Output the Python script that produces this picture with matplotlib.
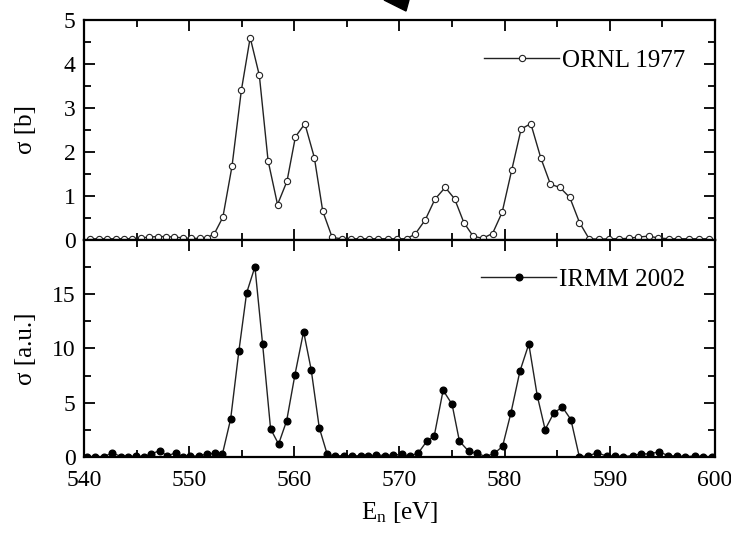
import matplotlib
matplotlib.use("Agg")
import matplotlib.pyplot as plt
from matplotlib.ticker import MultipleLocator
from matplotlib.patches import Polygon

plt.rcParams['font.family'] = ['Liberation Serif', 'DejaVu Serif']
plt.rcParams['mathtext.fontset'] = 'custom'
plt.rcParams['mathtext.rm'] = 'Liberation Serif'
plt.rcParams['mathtext.it'] = 'Liberation Serif'

# ORNL 1977 (sigma in barn)
ornl_e = [540.6, 541.4, 542.2, 543.0, 543.8, 544.6, 545.4, 546.2, 547.0, 547.8,
          548.6, 549.4, 550.2, 551.0, 551.7, 552.4, 553.2, 554.07, 554.96, 555.8,
          556.67, 557.5, 558.4, 559.3, 560.1, 561.0, 561.9, 562.7, 563.6, 564.5,
          565.35, 566.2, 567.1, 568.0, 568.9, 569.8, 570.67, 571.5, 572.45, 573.37,
          574.35, 575.24, 576.12, 577.0, 577.9, 578.85, 579.76, 580.68, 581.57, 582.49,
          583.44, 584.36, 585.25, 586.2, 587.12, 588.03, 588.98, 589.94, 590.9, 591.8,
          592.7, 593.7, 594.6, 595.6, 596.5, 597.5, 598.5, 599.4]
ornl_s = [0.02, 0.02, 0.02, 0.02, 0.02, 0.02, 0.04, 0.06, 0.07, 0.07,
          0.06, 0.04, 0.03, 0.03, 0.04, 0.14, 0.51, 1.67, 3.40, 4.60,
          3.74, 1.80, 0.80, 1.33, 2.34, 2.64, 1.87, 0.65, 0.05, 0.02,
          0.02, 0.02, 0.02, 0.02, 0.02, 0.02, 0.02, 0.13, 0.45, 0.92,
          1.19, 0.93, 0.39, 0.08, 0.03, 0.14, 0.62, 1.59, 2.52, 2.64,
          1.86, 1.26, 1.19, 0.96, 0.39, 0.02, 0.01, 0.02, 0.02, 0.03,
          0.06, 0.08, 0.04, 0.02, 0.02, 0.02, 0.02, 0.02]

# IRMM 2002 (arbitrary units)
irmm_e = [540.3, 541.0, 541.9, 542.7, 543.5, 544.2, 544.9, 545.7, 546.4, 547.2,
          547.9, 548.7, 549.4, 550.1, 550.9, 551.7, 552.5, 553.15, 553.94, 554.73,
          555.46, 556.25, 556.98, 557.74, 558.5, 559.27, 560.06, 560.88, 561.6, 562.37,
          563.13, 563.9, 564.7, 565.5, 566.3, 567.0, 567.8, 568.6, 569.4, 570.2,
          571.0, 571.8, 572.6, 573.3, 574.15, 575.0, 575.7, 576.6, 577.4, 578.2,
          579.0, 579.8, 580.6, 581.45, 582.3, 583.1, 583.85, 584.7, 585.5, 586.3,
          587.1, 587.9, 588.8, 589.7, 590.5, 591.3, 592.2, 593.0, 593.8, 594.7,
          595.5, 596.4, 597.2, 598.1, 598.9, 599.7]
irmm_s = [0.05, 0.05, 0.05, 0.4, 0.05, 0.05, 0.1, 0.05, 0.3, 0.6,
          0.1, 0.4, 0.05, 0.1, 0.1, 0.3, 0.35, 0.25, 3.5, 9.8,
          15.1, 17.5, 10.4, 2.6, 1.2, 3.35, 7.6, 11.55, 8.05, 2.7,
          0.25, 0.1, 0.15, 0.1, 0.15, 0.1, 0.2, 0.15, 0.2, 0.25,
          0.1, 0.4, 1.47, 1.93, 6.15, 4.86, 1.47, 0.52, 0.34, 0.05,
          0.34, 0.98, 4.07, 7.89, 10.4, 5.66, 2.54, 4.1, 4.59, 3.46,
          0.05, 0.1, 0.4, 0.1, 0.1, 0.05, 0.15, 0.3, 0.3, 0.5,
          0.15, 0.1, 0.05, 0.1, 0.05, 0.05]

fig = plt.figure(figsize=(7.31, 5.41), dpi=100)
ax1 = fig.add_axes([0.115, 0.557, 0.863, 0.406])
ax2 = fig.add_axes([0.115, 0.155, 0.863, 0.402], sharex=ax1)

ax1.plot(ornl_e, ornl_s, '-', color='#222222', lw=1.0, marker='o', ms=4.5,
         mfc='white', mec='#222222', mew=0.8, label='ORNL 1977')
ax2.plot(irmm_e, irmm_s, '-', color='#222222', lw=1.0, marker='o', ms=4.8,
         mfc='black', mec='black', label='IRMM 2002')

ax1.set_xlim(540, 600)

ax1.xaxis.set_major_locator(MultipleLocator(10))
ax1.xaxis.set_minor_locator(MultipleLocator(5))
ax1.yaxis.set_minor_locator(MultipleLocator(0.5))
ax2.yaxis.set_minor_locator(MultipleLocator(2.5))
ax1.set_yticks([0, 1, 2, 3, 4, 5])
ax2.set_yticks([0, 5, 10, 15])
ax1.set_ylim(0, 5)
ax2.set_ylim(0, 20)

for ax in (ax1, ax2):
    for s in ax.spines.values():
        s.set_linewidth(1.6)
    ax.tick_params(which='both', direction='in', top=True, right=True, width=1.3)
    ax.tick_params(which='major', length=8, labelsize=17)
    ax.tick_params(which='minor', length=5)
    ax.tick_params(axis='y', pad=6)

ax1.tick_params(labelbottom=False)
ax2.tick_params(axis='x', pad=9)

ax1.set_ylabel('σ [b]', fontsize=18)
ax2.set_ylabel('σ [a.u.]', fontsize=18)
ax2.set_xlabel(r'E$_\mathrm{n}$ [eV]', fontsize=18, labelpad=7)
ax1.yaxis.set_label_coords(-0.075, 0.5)
ax2.yaxis.set_label_coords(-0.075, 0.5)

ax1.legend(loc='upper right', frameon=False, fontsize=18, handlelength=3,
           handletextpad=0.1, borderaxespad=0.3, bbox_to_anchor=(0.98, 0.945))
ax2.legend(loc='upper right', frameon=False, fontsize=18, handlelength=3,
           handletextpad=0.1, borderaxespad=0.3, bbox_to_anchor=(0.98, 0.95))

# dark arrow tip cut off at the top edge of the scan
fig.patches.append(Polygon([(384 / 731, 1.0), (409 / 731, 1.0), (406 / 731, 1 - 11 / 541)],
                           closed=True, transform=fig.transFigure, color='black'))

fig.savefig('out.png', dpi=100)
